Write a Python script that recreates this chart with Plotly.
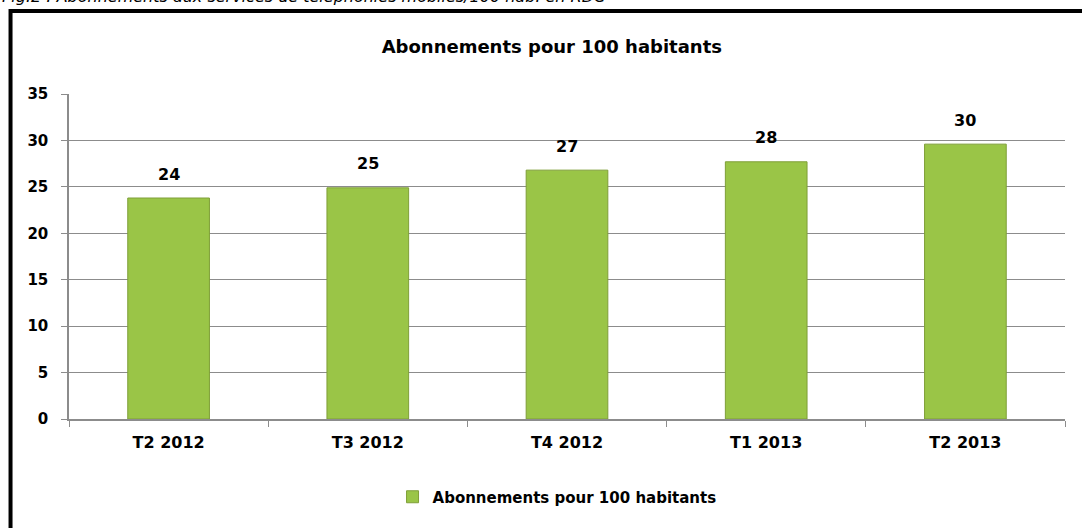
"""Abonnements aux services de téléphonie mobile pour 100 habitants en RDC."""
import plotly.graph_objects as go

trimestres = ["T2 2012", "T3 2012", "T4 2012", "T1 2013", "T2 2013"]
abonnements = [23.8, 24.9, 26.8, 27.7, 29.6]
etiquettes = ["24", "25", "27", "28", "30"]

FONT = "DejaVu Sans, Verdana, sans-serif"
VERT = "#9ac547"

fig = go.Figure()
fig.add_trace(
    go.Bar(
        x=trimestres,
        y=abonnements,
        name="<b>Abonnements pour 100 habitants</b>",
        marker=dict(color=VERT, line=dict(color="#7f9f38", width=1)),
        width=0.41,
        hoverinfo="x+y",
    )
)

# étiquettes de valeur au-dessus des barres
for cat, val, lab in zip(trimestres, abonnements, etiquettes):
    fig.add_annotation(
        x=cat, y=val, text=f"<b>{lab}</b>", showarrow=False,
        yanchor="middle", yshift=24,
        font=dict(family=FONT, size=16, color="black"),
    )

# légende de la figure (coupée en haut de l'image, comme sur l'original)
fig.add_annotation(
    xref="paper", yref="paper", x=-0.069, y=1.266, xanchor="left", yanchor="bottom",
    text="<i>Fig.2 : Abonnements aux services de téléphonies mobiles/100 hab. en RDC</i>",
    showarrow=False, font=dict(family=FONT, size=16, color="black"),
)

# cadre noir épais
fig.add_shape(
    type="rect", xref="paper", yref="paper",
    x0=-0.0587, x1=1.05, y0=-0.4, y1=1.2554,
    line=dict(color="black", width=4), layer="below",
)

fig.update_layout(
    width=1082,
    height=528,
    title=dict(
        text="<b>Abonnements pour 100 habitants</b>",
        x=0.51, xanchor="center", y=0.911, yanchor="middle",
        font=dict(family=FONT, size=18, color="black"),
    ),
    margin=dict(l=69, r=17, t=94, b=109),
    paper_bgcolor="white",
    plot_bgcolor="white",
    showlegend=True,
    legend=dict(
        orientation="h", x=0.49, xanchor="center", y=-0.24, yanchor="middle",
        font=dict(family=FONT, size=15, color="black"),
    ),
    font=dict(family=FONT, color="black"),
)
fig.update_xaxes(
    showline=True, linecolor="#8c8c8c", linewidth=1.5,
    ticks="outside", tickson="boundaries", ticklen=6, tickcolor="#8c8c8c",
    tickfont=dict(family=FONT, size=16, color="black"),
    tickprefix="<b>", ticksuffix="</b>",
    ticklabelstandoff=8,
)
fig.update_yaxes(
    range=[0, 35], dtick=5,
    showline=True, linecolor="#8c8c8c", linewidth=1.5,
    ticks="outside", ticklen=6, tickcolor="#8c8c8c",
    showgrid=True, gridcolor="#8c8c8c", gridwidth=1,
    tickfont=dict(family=FONT, size=15, color="black"),
    tickprefix="<b>", ticksuffix="</b>",
    ticklabelstandoff=10,
    zeroline=False,
)

fig.write_html(
    "out.html",
    config={"displayModeBar": False},
    post_script="document.body.style.margin='0';document.body.style.overflow='hidden';",
)
